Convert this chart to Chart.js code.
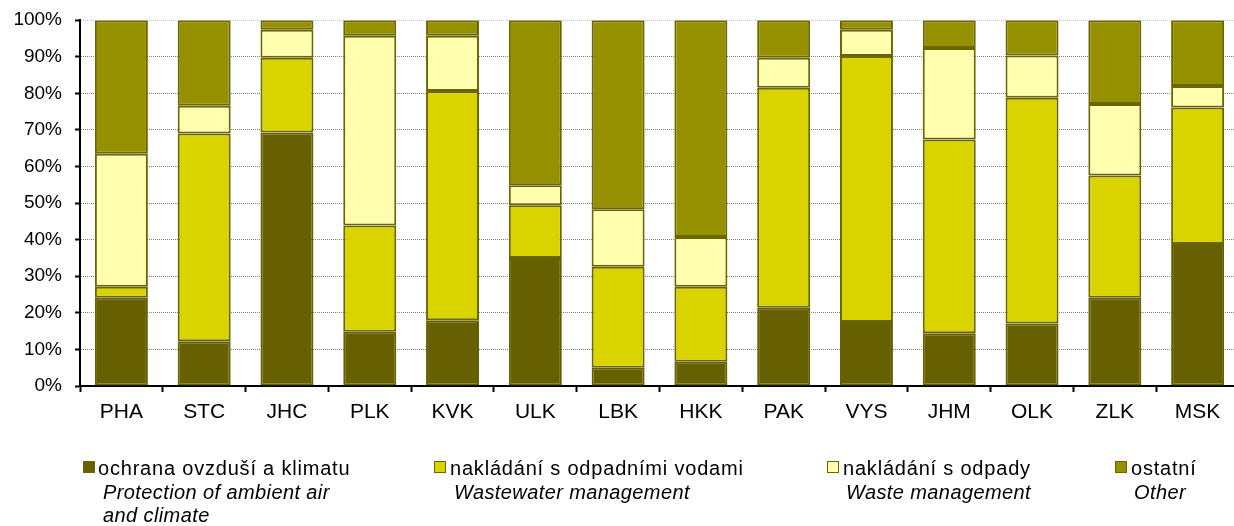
<!DOCTYPE html>
<html>
<head>
<meta charset="utf-8">
<script src="https://cdn.jsdelivr.net/npm/chart.js@4"></script>
<style>
  body { margin: 0; overflow: hidden; background: #fff; font-family: "Liberation Sans", Arial, sans-serif; }
  #wrap { position: relative; width: 1240px; height: 526px; }
  #legend { position: absolute; left: 0; top: 0; width: 1240px; height: 526px; pointer-events: none; }
  .item { position: absolute; top: 456px; font-size: 20px; color: #000; }
  .box { position: absolute; left: 0; top: 5px; width: 10px; height: 10px; border: 1px solid #6b6600; }
  .cz { line-height: 25px; white-space: nowrap; letter-spacing: 0.8px; }
  .en { font-style: italic; line-height: 23px; white-space: nowrap; letter-spacing: 0.4px; }
</style>
</head>
<body>
<div id="wrap">
  <canvas id="barChart" width="1240" height="526"></canvas>
  <div id="legend"></div>
</div>
<script>
const regions = ['PHA', 'STC', 'JHC', 'PLK', 'KVK', 'ULK', 'LBK', 'HKK', 'PAK', 'VYS', 'JHM', 'OLK', 'ZLK', 'MSK'];

// shares in %
const airClimate = [24.1, 12.2, 69.3, 14.8, 18.0, 35.0, 5.0, 6.6, 21.4, 17.5, 14.4, 17.1, 24.1, 38.8];
const wastewater = [3.0, 56.8, 20.4, 29.1, 62.6, 14.4, 27.6, 20.5, 60.1, 72.7, 53.0, 61.7, 33.4, 37.3];
const waste      = [36.4, 7.6, 7.7, 51.8, 15.1, 5.5, 15.7, 13.6, 8.2, 7.2, 25.0, 11.5, 19.6, 5.9];
const other      = [36.5, 23.4, 2.6, 4.3, 4.3, 45.1, 51.7, 59.3, 10.3, 2.6, 7.6, 9.7, 22.9, 18.0];

const namesCz = ['ochrana ovzduší a klimatu', 'nakládání s odpadními vodami', 'nakládání s odpady', 'ostatní'];
const namesEn = ['Protection of ambient air<br>and  climate', 'Wastewater management', 'Waste management', 'Other'];
const colors = ['#666000', '#d9d300', '#ffffaf', '#949000'];

const ctx = document.getElementById('barChart').getContext('2d');
const series = [airClimate, wastewater, waste, other];

new Chart(ctx, {
  type: 'bar',
  data: {
    labels: regions,
    datasets: series.map((d, i) => ({
      label: namesCz[i],
      data: d,
      backgroundColor: colors[i],
      borderColor: i === 0 ? '#666000' : '#6b6600',
      borderWidth: 2,
      borderSkipped: false,
      barPercentage: 0.64,
      categoryPercentage: 1
    }))
  },
  options: {
    responsive: false,
    animation: false,
    layout: { padding: { top: 15, right: 1, left: 0, bottom: 0 } },
    plugins: {
      legend: { display: false },
      tooltip: { enabled: false }
    },
    scales: {
      x: {
        stacked: true,
        afterFit: s => { s.height = 140; },
        grid: { drawOnChartArea: false, offset: true, tickLength: 6, tickColor: '#000', tickWidth: 2 },
        border: { color: '#000', width: 2 },
        ticks: { color: '#000', padding: 8, font: { family: 'Liberation Sans', size: 21 } }
      },
      y: {
        stacked: true,
        min: 0,
        max: 100,
        afterFit: s => { s.width = 80; },
        grid: {
          color: c => c.tick.value === 100 ? '#c8c8c8' : '#808080',
          lineWidth: 1,
          tickLength: 5,
          tickColor: '#000',
          tickWidth: 2
        },
        border: { color: '#000', width: 2, dash: [1, 1] },
        ticks: {
          stepSize: 10,
          color: '#000',
          padding: 13,
          font: { family: 'Liberation Sans', size: 19, lineHeight: 0.75 },
          callback: v => v + '%'
        }
      }
    }
  }
});

// legend with Czech + English names
const legendX = [83, 434, 827, 1115];
const textOff = [15, 16, 16, 16];
const enOff = [20, 20, 19, 19];
const legend = document.getElementById('legend');
namesCz.forEach((n, i) => {
  const el = document.createElement('div');
  el.className = 'item';
  el.style.left = legendX[i] + 'px';
  el.innerHTML = `<span class="box" style="background:${colors[i]}"></span>` +
    `<div class="cz" style="padding-left:${textOff[i]}px">${n}</div>` +
    `<div class="en" style="padding-left:${enOff[i]}px">${namesEn[i]}</div>`;
  legend.appendChild(el);
});
</script>
</body>
</html>
